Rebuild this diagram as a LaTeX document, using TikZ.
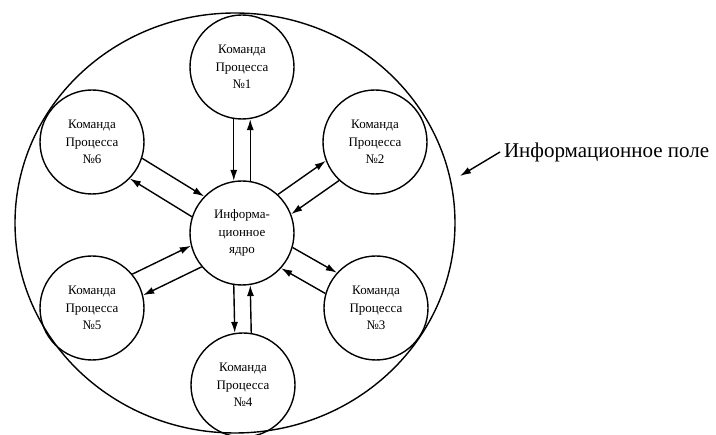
\documentclass[tikz,border=0pt]{standalone}
\usepackage{fontspec}
\setmainfont{Liberation Serif}
\usetikzlibrary{arrows.meta, shapes.geometric}

\begin{document}
\begin{tikzpicture}[x=1pt, y=-1pt, line width=1.4pt, >={Latex[length=11pt, width=7pt]},
	main/.style = {draw, circle, minimum size=104pt, inner sep=0pt, align=center, font=\fontsize{13}{17.5}\selectfont},
	field/.style = {draw, ellipse, minimum width=440pt, minimum height=420pt, inner sep=0pt}]
	\useasboundingbox (0,0) rectangle (716,435);
	\node[field] (field) at (235,223) {};
	\node[main] (core) at (242,233) {Информа-\\ционное\\ядро};
	\node[main] (p1) at (242,67) {Команда\\Процесса\\№1};
	\node[main] (p2) at (375,142) {Команда\\Процесса\\№2};
	\node[main] (p3) at (376,308) {Команда\\Процесса\\№3};
	\node[main] (p4) at (243,385) {Команда\\Процесса\\№4};
	\node[main] (p5) at (92,308) {Команда\\Процесса\\№5};
	\node[main] (p6) at (92,142) {Команда\\Процесса\\№6};
	\node[anchor=west, font=\fontsize{21}{24}\selectfont] (fieldlabel) at (500,152) {Информационное поле};
	\coordinate (fieldpt) at (460,176);
	
	\draw[->] (core.81) -- (p1.279);
	\draw[->] (p1.261) -- (core.99);
	\draw[->] (core.47) -- (p2.201);
	\draw[->] (p2.227) -- (core.21);
	\draw[->] (core.344) -- (p3.138);
	\draw[->] (p3.164) -- (core.318);
	\draw[->] (core.261) -- (p4.99);
	\draw[->] (p4.81) -- (core.279);
	\draw[->] (core.220) -- (p5.14);
	\draw[->] (p5.40) -- (core.194);
	\draw[->] (core.162) -- (p6.316);
	\draw[->] (p6.342) -- (core.136);
	\draw[->] (fieldlabel.west) -- (fieldpt);
\end{tikzpicture}
\end{document}
